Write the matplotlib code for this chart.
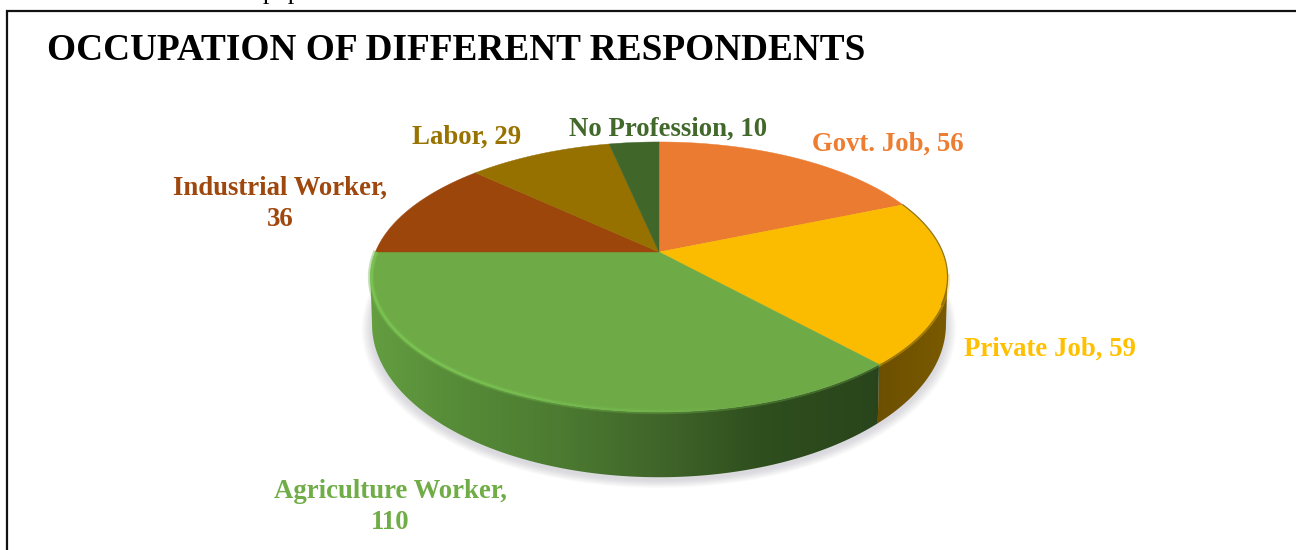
import numpy as np
import matplotlib
matplotlib.use("Agg")
import matplotlib.pyplot as plt
from matplotlib.patches import Polygon
from matplotlib.collections import LineCollection

# occupation counts, clockwise from 12 o'clock
occupations = ['Govt. Job', 'Private Job', 'Agriculture Worker',
               'Industrial Worker', 'Labor', 'No Profession']
counts = [56, 59, 110, 36, 29, 10]
top_colors = ['#EB7B30', '#FBBC00', '#6EAB47', '#9C460C', '#967100', '#41662A']
label_colors = ['#ED7D31', '#FFC000', '#70AD47', '#9E480E', '#997300', '#43682B']

label_text = ['Govt. Job, 56', 'Private Job, 59', 'Agriculture Worker,\n110',
              'Industrial Worker,\n36', 'Labor, 29', 'No Profession, 10']
label_pos = [(888, 144), (1050, 349), (390, 507), (280, 203.5), (467, 137), (668, 129)]

W, H = 1296, 550
CX = 659
KP = 0.185  # perspective strength


def disk(theta, cy, a, b, r=1.0):
    # theta in degrees clockwise from the top of the pie
    t = np.radians(theta)
    u, v = r * np.sin(t), r * np.cos(t)
    w = 1 + KP * v
    return CX + b * u / w, cy - a * v / w


def top_face(theta, r=1.0):
    return disk(theta, 252, 130.4, 283.6, r)


def bottom_face(theta, r=1.0):
    return disk(theta, 296, 147.7, 282, r)


def side_gradient(idx):
    # shaded rim as a left to right colour ramp, darker to the right
    if occupations[idx] == 'Private Job':
        xs, cs = [870, 950], ['#6B4E00', '#7A5B00']
    else:
        xs, cs = [365, 450, 560, 660, 760, 885], ['#649F41', '#578C38', '#4C7B31',
                                                   '#40652A', '#2F4F1E', '#29441B']
    rgb = np.array([matplotlib.colors.to_rgb(c) for c in cs])
    grid = np.linspace(xs[0], xs[-1], 400)
    ramp = np.stack([np.interp(grid, xs, rgb[:, i]) for i in range(3)], axis=-1)
    return ramp[np.newaxis, :, :], (xs[0], xs[-1])


fig = plt.figure(figsize=(W / 100, H / 100), dpi=100)
ax = fig.add_axes([0, 0, 1, 1])

# box around the chart, only left and top show
ax.plot([6.5, 6.5, W], [H, 11, 11], color='#111111', lw=1.6, solid_joinstyle='miter')

angles = np.cumsum([0] + counts) / sum(counts) * 360

# soft shadow under the pie
th = np.linspace(0, 360, 240)
for grow in np.linspace(1.035, 1.0, 14):
    sx, sy = bottom_face(th, grow)
    ax.add_patch(Polygon(np.c_[sx, sy + 3], fc='#9A9AA8', ec='none', alpha=0.028, zorder=1))

# side wall, between the widest points of the two disks
for i in range(len(counts)):
    lo, hi = max(angles[i], 100.7), min(angles[i + 1], 259.3)
    if lo >= hi:
        continue
    th = np.linspace(lo, hi, 200)
    tx, ty = top_face(th)
    bx, by = bottom_face(th)
    outline = Polygon(np.r_[np.c_[tx, ty], np.c_[bx, by][::-1]], transform=ax.transData,
                      fc='none', ec='none')
    ax.add_patch(outline)
    ramp, (x0, x1) = side_gradient(i)
    im = ax.imshow(ramp, extent=(x0, x1, 500, 200), aspect='auto', zorder=2,
                   interpolation='bilinear')
    im.set_clip_path(outline)

# top of the pie
for i in range(len(counts)):
    th = np.linspace(angles[i], angles[i + 1], 120)
    x, y = top_face(th)
    ax.add_patch(Polygon(np.r_[[(CX, 252)], np.c_[x, y]], fc=top_colors[i], ec=top_colors[i],
                         lw=0.3, zorder=3))
    # soft edge where the top meets the wall
    lo, hi = max(angles[i], 100), min(angles[i + 1], 270)
    if lo < hi:
        x, y = top_face(np.linspace(lo, hi, 120), 1.003)
        ax.plot(x, y, color=top_colors[i], lw=2.4, alpha=0.35, zorder=3.5)

# bevel highlight along the green rim
th = np.linspace(angles[2], angles[3], 200)
x, y = top_face(th, 0.996)
pts = np.c_[x, y]
segs = np.stack([pts[:-1], pts[1:]], axis=1)
alpha = np.clip((th[:-1] - 165) / 60, 0, 1) * 0.75
ax.add_collection(LineCollection(segs, colors=[(0.49, 0.79, 0.33, a * 0.4) for a in alpha],
                                 linewidths=3.4, zorder=4))
ax.add_collection(LineCollection(segs, colors=[(0.49, 0.79, 0.33, a) for a in alpha],
                                 linewidths=1.6, zorder=4))

# thin dark rim on the yellow side
th = np.linspace(angles[1], 112, 60)
x, y = top_face(th, 1.0)
ax.plot(x, y, color='#6E5A10', lw=0.9, alpha=0.75, zorder=4)

ax.text(47, 50.5, 'OCCUPATION OF DIFFERENT RESPONDENTS', family='Liberation Serif',
        fontweight='bold', fontsize=26.8, color='black', ha='left', va='center')

# line of body text running off the top edge
ax.text(263, -1.5, 'population', family='Liberation Serif', fontsize=18.7, color='black',
        ha='left', va='baseline', clip_on=True)

for txt, pos, col in zip(label_text, label_pos, label_colors):
    ax.text(pos[0], pos[1], txt, family='Liberation Serif', fontweight='bold', fontsize=19.25,
            color=col, ha='center', va='center', linespacing=1.32, zorder=5)

ax.set_xlim(0, W)
ax.set_ylim(H, 0)
ax.axis('off')

fig.savefig('out.png', dpi=100)
